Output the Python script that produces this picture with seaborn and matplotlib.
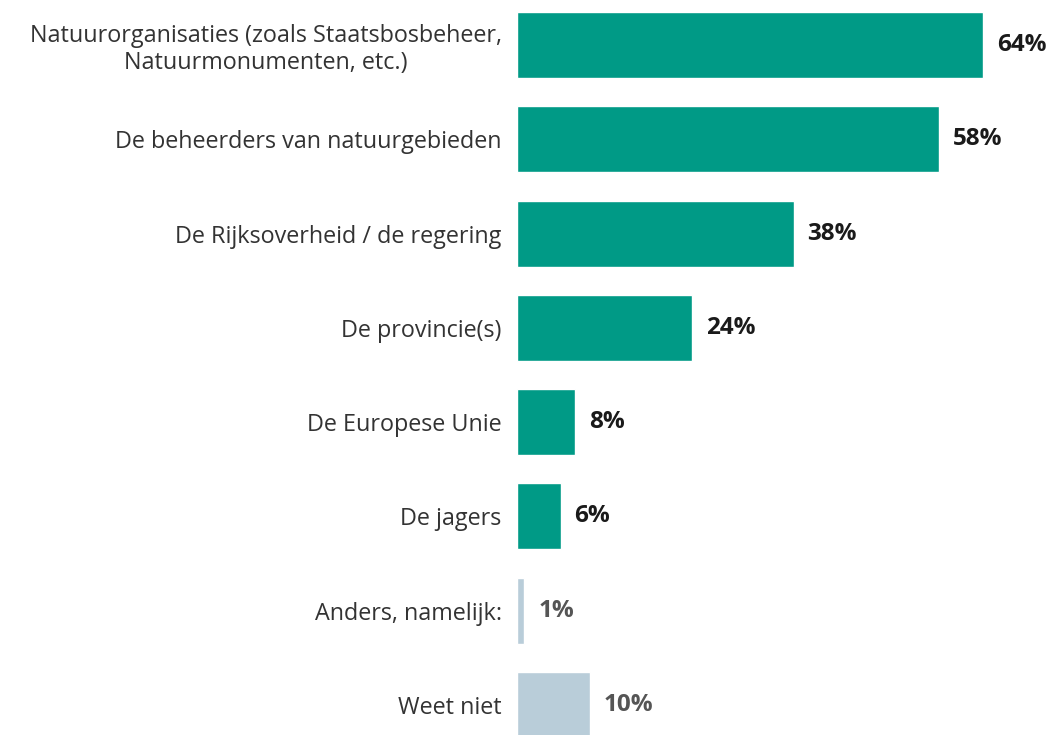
import matplotlib
matplotlib.use("Agg")
import matplotlib.pyplot as plt
import seaborn as sns
import pandas as pd

categories = [
    "Natuurorganisaties (zoals Staatsbosbeheer,\nNatuurmonumenten, etc.)",
    "De beheerders van natuurgebieden",
    "De Rijksoverheid / de regering",
    "De provincie(s)",
    "De Europese Unie",
    "De jagers",
    "Anders, namelijk:",
    "Weet niet",
]
values = [64, 58, 38, 24, 8, 6, 1, 10]
value_labels = ["64%", "58%", "38%", "24%", "8%", "6%", "1%", "10%"]

TEAL = "#009a86"
GREY = "#b9cdd9"
colors = [TEAL] * 6 + [GREY] * 2
label_colors = ["#1a1a1a"] * 6 + ["#555555"] * 2

sns.set_theme(style="white")
plt.rcParams["font.family"] = ["Open Sans", "DejaVu Sans"]

df = pd.DataFrame({"cat": categories, "val": values})

fig = plt.figure(figsize=(10.51, 7.35), dpi=100)
ax = fig.add_axes([517 / 1051, 0, 1 - 517 / 1051, 1])
sns.barplot(data=df, x="val", y="cat", hue="cat", palette=colors,
            orient="h", width=0.70, legend=False, ax=ax, saturation=1)

ax.set_xlim(0, 534 / 7.28)
ax.set_ylim(7 + 30 / 94.3, -45 / 94.3)
ax.set_xlabel("")
ax.set_ylabel("")
ax.set_xticks([])
for s in ax.spines.values():
    s.set_visible(False)
ax.tick_params(axis="y", length=0, pad=11, labelsize=16.8, labelcolor="#333333")
for t in ax.get_yticklabels():
    t.set_horizontalalignment("right")
    t.set_multialignment("center")
    t.set_linespacing(1.15)

for i, (v, lab) in enumerate(zip(values, value_labels)):
    ax.annotate(lab, xy=(v, i), xytext=(10, 0), textcoords="offset points",
                va="center", ha="left", fontsize=17.5, fontweight="bold",
                color=label_colors[i])

fig.savefig("out.png", dpi=100)
